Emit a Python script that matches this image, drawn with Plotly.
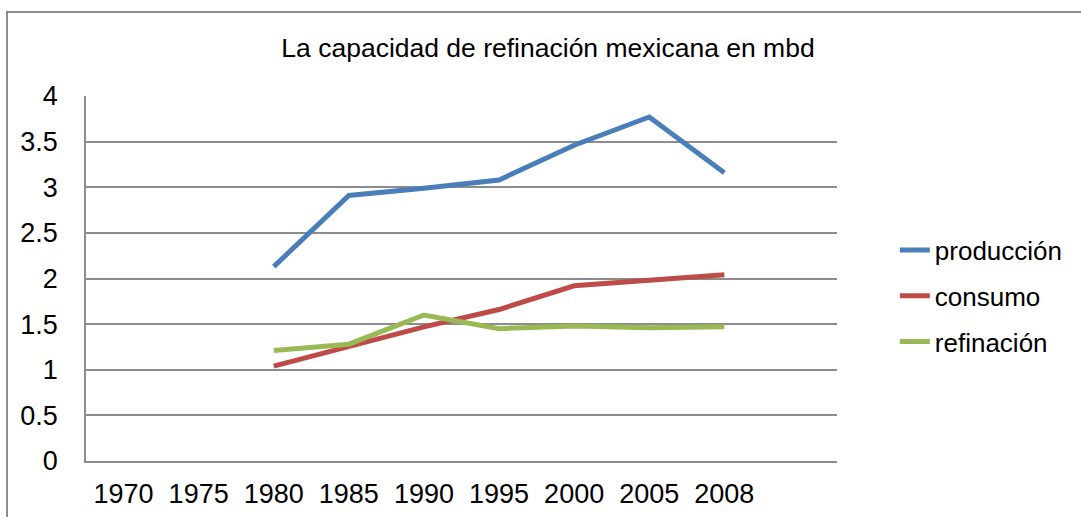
import plotly.graph_objects as go

years = ["1970", "1975", "1980", "1985", "1990", "1995", "2000", "2005", "2008"]
produccion = [None, None, 2.13, 2.91, 2.99, 3.08, 3.46, 3.77, 3.16]
consumo = [None, None, 1.04, 1.25, 1.47, 1.66, 1.92, 1.98, 2.04]
refinacion = [None, None, 1.21, 1.28, 1.60, 1.45, 1.48, 1.46, 1.47]

series = [
    ("producción", produccion, "#4A7EBB"),
    ("consumo", consumo, "#BE4B48"),
    ("refinación", refinacion, "#98B954"),
]

FONT = "Liberation Sans, Arial, sans-serif"
GRID = "#8c8c8c"

fig = go.Figure()
for name, vals, color in series:
    fig.add_trace(
        go.Scatter(
            x=years, y=vals, mode="lines", name=name, legendgroup=name,
            line=dict(color=color, width=5),
        )
    )

fig.update_layout(
    width=1081,
    height=517,
    margin=dict(l=86, r=244, t=96, b=56, autoexpand=False),
    paper_bgcolor="white",
    plot_bgcolor="white",
    font=dict(family=FONT, size=27, color="#000000"),
    title=dict(
        text="La capacidad de refinación mexicana en mbd",
        x=548 / 1081, xref="container", xanchor="center",
        y=1 - 48 / 517, yref="container", yanchor="middle",
        font=dict(family=FONT, size=26.5, color="#000000"),
    ),
    legend=dict(
        x=1.077, xanchor="left", y=0.452, yanchor="middle",
        font=dict(family=FONT, size=26),
        tracegroupgap=9, bgcolor="rgba(0,0,0,0)",
    ),
    xaxis=dict(
        type="category", range=[-0.5, 9.5], automargin=False,
        showgrid=False, showline=True, linecolor=GRID, linewidth=1.5,
        ticks="", ticklabelstandoff=8,
    ),
    yaxis=dict(
        range=[0, 4], dtick=0.5, tickformat="~g", automargin=False,
        showgrid=True, gridcolor=GRID, gridwidth=1.5,
        showline=True, linecolor=GRID, linewidth=1.5,
        zeroline=False, ticks="", ticklabelstandoff=21,
    ),
    shapes=[
        dict(
            type="rect", xref="paper", yref="paper",
            x0=(7 - 86) / 751, x1=1.5, y0=-0.5, y1=(461 - 12) / 365,
            line=dict(color="#8c8c8c", width=2), layer="below",
        )
    ],
)

# the page body has a default 8px margin; drop it so the figure fills the window
fig.write_html(
    "out.html",
    config={"displayModeBar": False},
    post_script="document.body.style.margin='0';",
)
